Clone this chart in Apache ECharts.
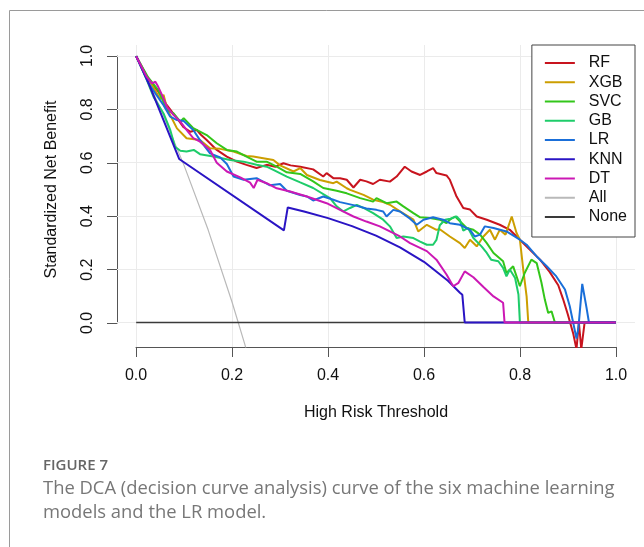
<!DOCTYPE html>
<html>
<head>
<meta charset="utf-8">
<title>DCA curve</title>
<script src="https://cdn.jsdelivr.net/npm/echarts@6/dist/echarts.min.js"></script>
<style>
html, body { margin: 0; padding: 0; background: #fff; }
#chart { width: 644px; height: 547px; }
</style>
</head>
<body>
<div id="chart"></div>
<script>
// tick positions of both axes
var xTicks = [0, 0.2, 0.4, 0.6, 0.8, 1.0];
var yTicks = [0, 0.2, 0.4, 0.6, 0.8, 1.0];
var legendNames = ['RF', 'XGB', 'SVC', 'GB', 'LR', 'KNN', 'DT', 'All', 'None'];

// [threshold, standardized net benefit]
var rf = [[0,1],[0.02,0.93],[0.03,0.905],[0.045,0.87],[0.064,0.816],[0.085,0.767],[0.099,0.733],[0.113,0.716],[0.126,0.723],[0.135,0.705],[0.147,0.685],[0.168,0.648],[0.189,0.623],[0.21,0.604],[0.23,0.592],[0.251,0.58],[0.272,0.592],[0.29,0.585],[0.307,0.598],[0.322,0.59],[0.342,0.585],[0.369,0.575],[0.39,0.548],[0.397,0.561],[0.411,0.542],[0.425,0.542],[0.439,0.536],[0.453,0.507],[0.467,0.536],[0.48,0.53],[0.494,0.52],[0.508,0.536],[0.529,0.529],[0.543,0.548],[0.56,0.585],[0.574,0.567],[0.592,0.554],[0.606,0.567],[0.619,0.58],[0.626,0.561],[0.647,0.552],[0.654,0.536],[0.668,0.473],[0.682,0.43],[0.696,0.424],[0.71,0.398],[0.731,0.386],[0.758,0.367],[0.779,0.348],[0.8,0.311],[0.821,0.273],[0.842,0.236],[0.862,0.19],[0.88,0.14],[0.89,0.088],[0.9,0.03],[0.911,-0.04],[0.918,-0.1],[0.923,0],[0.928,-0.1],[0.935,0],[1,0]];
var xgb = [[0,1],[0.02,0.93],[0.04,0.87],[0.05,0.84],[0.057,0.855],[0.065,0.8],[0.085,0.729],[0.105,0.692],[0.133,0.685],[0.154,0.654],[0.175,0.652],[0.203,0.642],[0.23,0.625],[0.244,0.623],[0.265,0.617],[0.286,0.61],[0.3,0.59],[0.328,0.567],[0.342,0.58],[0.356,0.554],[0.383,0.535],[0.411,0.523],[0.418,0.529],[0.439,0.504],[0.446,0.498],[0.474,0.479],[0.494,0.461],[0.515,0.452],[0.529,0.442],[0.55,0.417],[0.578,0.386],[0.588,0.342],[0.606,0.367],[0.626,0.348],[0.633,0.35],[0.654,0.323],[0.675,0.298],[0.685,0.28],[0.696,0.311],[0.71,0.286],[0.724,0.323],[0.7375,0.348],[0.748,0.311],[0.758,0.348],[0.77,0.33],[0.783,0.398],[0.793,0.336],[0.8,0.311],[0.807,0.199],[0.814,0.098],[0.8175,0],[1,0]];
var svc = [[0,1],[0.025,0.92],[0.046,0.873],[0.064,0.798],[0.078,0.785],[0.092,0.754],[0.099,0.767],[0.119,0.73],[0.147,0.704],[0.168,0.673],[0.189,0.648],[0.21,0.642],[0.23,0.623],[0.251,0.604],[0.272,0.604],[0.293,0.585],[0.314,0.564],[0.342,0.558],[0.369,0.53],[0.39,0.505],[0.418,0.495],[0.439,0.485],[0.467,0.467],[0.494,0.454],[0.501,0.467],[0.522,0.448],[0.543,0.454],[0.557,0.436],[0.578,0.411],[0.592,0.395],[0.6125,0.392],[0.633,0.386],[0.647,0.373],[0.654,0.386],[0.665,0.398],[0.675,0.38],[0.689,0.355],[0.703,0.348],[0.717,0.33],[0.731,0.298],[0.745,0.261],[0.765,0.23],[0.772,0.186],[0.786,0.211],[0.8,0.136],[0.81,0.186],[0.824,0.236],[0.835,0.223],[0.845,0.149],[0.852,0.086],[0.859,0.036],[0.866,0.042],[0.873,0],[1,0]];
var gb = [[0,1],[0.02,0.92],[0.036,0.848],[0.057,0.785],[0.071,0.723],[0.081,0.66],[0.092,0.645],[0.105,0.642],[0.12,0.648],[0.133,0.632],[0.161,0.623],[0.196,0.61],[0.224,0.604],[0.251,0.592],[0.272,0.585],[0.286,0.573],[0.314,0.548],[0.342,0.526],[0.369,0.505],[0.404,0.467],[0.418,0.436],[0.432,0.417],[0.446,0.43],[0.46,0.442],[0.474,0.43],[0.494,0.411],[0.515,0.386],[0.529,0.361],[0.543,0.317],[0.557,0.323],[0.578,0.317],[0.592,0.304],[0.606,0.292],[0.619,0.292],[0.626,0.31],[0.633,0.365],[0.644,0.386],[0.655,0.39],[0.668,0.398],[0.675,0.385],[0.682,0.345],[0.692,0.355],[0.703,0.317],[0.72,0.286],[0.731,0.261],[0.74,0.236],[0.755,0.23],[0.765,0.205],[0.772,0.173],[0.779,0.199],[0.79,0.167],[0.797,0.105],[0.8,0],[1,0]];
var lr = [[0,1],[0.026,0.898],[0.04,0.86],[0.057,0.816],[0.071,0.773],[0.085,0.76],[0.099,0.757],[0.119,0.723],[0.133,0.685],[0.154,0.635],[0.175,0.62],[0.189,0.595],[0.203,0.548],[0.224,0.536],[0.251,0.542],[0.279,0.515],[0.3,0.52],[0.314,0.495],[0.342,0.479],[0.356,0.473],[0.369,0.458],[0.39,0.473],[0.411,0.461],[0.425,0.452],[0.46,0.438],[0.48,0.428],[0.501,0.423],[0.515,0.417],[0.522,0.398],[0.536,0.423],[0.55,0.417],[0.571,0.39],[0.585,0.367],[0.599,0.386],[0.619,0.395],[0.64,0.386],[0.654,0.373],[0.675,0.367],[0.696,0.348],[0.706,0.323],[0.717,0.33],[0.727,0.361],[0.745,0.355],[0.772,0.342],[0.8,0.311],[0.814,0.292],[0.835,0.248],[0.856,0.211],[0.876,0.173],[0.894,0.124],[0.904,0.061],[0.911,0],[0.918,-0.06],[0.922,-0.02],[0.93,0.145],[0.939,0.055],[0.944,0],[1,0]];
var knn = [[0,1],[0.026,0.898],[0.0896,0.614],[0.308,0.346],[0.316,0.432],[0.35,0.417],[0.4,0.392],[0.45,0.362],[0.5,0.326],[0.55,0.282],[0.6,0.228],[0.65,0.157],[0.675,0.112],[0.68,0.104],[0.685,0],[1,0]];
var dt = [[0,1],[0.022,0.922],[0.033,0.898],[0.04,0.904],[0.046,0.885],[0.054,0.854],[0.064,0.81],[0.078,0.779],[0.092,0.754],[0.105,0.723],[0.119,0.692],[0.133,0.679],[0.154,0.648],[0.168,0.6],[0.189,0.567],[0.217,0.545],[0.2375,0.525],[0.245,0.505],[0.253,0.536],[0.272,0.523],[0.293,0.504],[0.321,0.492],[0.356,0.473],[0.397,0.448],[0.425,0.423],[0.453,0.398],[0.48,0.379],[0.508,0.361],[0.529,0.342],[0.55,0.323],[0.571,0.298],[0.606,0.268],[0.626,0.236],[0.647,0.18],[0.661,0.136],[0.672,0.149],[0.685,0.192],[0.703,0.17],[0.724,0.133],[0.745,0.098],[0.765,0.074],[0.768,0],[1,0]];
var treatAll = [[0,1],[0.05,0.806],[0.1,0.589],[0.15,0.348],[0.2,0.076],[0.227,-0.085],[0.24,-0.18]];
var treatNone = [[0,0],[1,0]];

var font = '"Liberation Sans", Arial, sans-serif';
var captionFont = '"Open Sans", sans-serif';
var axisColor = '#555';

var chart = echarts.init(document.getElementById('chart'));

function curve(name, data, color, width) {
    return {
        name: name,
        type: 'line',
        data: data,
        xAxisIndex: 0,
        yAxisIndex: 0,
        symbol: 'none',
        clip: true,
        z: 3,
        lineStyle: { color: color, width: width },
        itemStyle: { color: color }
    };
}

// background grid lines over the whole plot region
var gridSeries = {
    name: 'grid',
    type: 'line',
    data: [],
    xAxisIndex: 0,
    yAxisIndex: 0,
    z: 1,
    markLine: {
        z: 1,
        silent: true,
        symbol: 'none',
        label: { show: false },
        lineStyle: { color: '#ebebeb', width: 1, type: 'solid' },
        data: xTicks.map(function (v) { return { xAxis: v }; })
            .concat(yTicks.map(function (v) { return { yAxis: v }; }))
    }
};

var option = {
    animation: false,
    backgroundColor: '#fff',
    textStyle: { fontFamily: font },
    grid: [
        // plot region
        { left: 117, right: 9, top: 45, bottom: 200 },
        // region spanned by the tick range (0..1), used for the R style axes
        { left: 136, right: 28, top: 56, bottom: 224 }
    ],
    xAxis: [
        { gridIndex: 0, type: 'value', min: -0.04, max: 1.04, show: false },
        {
            gridIndex: 1, type: 'value', min: 0, max: 1, interval: 0.2, offset: 24,
            axisLine: { show: true, onZero: false, lineStyle: { color: axisColor, width: 1 } },
            axisTick: { show: true, length: 10, lineStyle: { color: axisColor } },
            axisLabel: { fontSize: 16, color: '#111', margin: 21, fontFamily: font,
                formatter: function (v) { return v.toFixed(1); } },
            splitLine: { show: false },
            name: 'High Risk Threshold', nameLocation: 'middle', nameGap: 58,
            nameTextStyle: { fontSize: 16, color: '#111', fontFamily: font }
        }
    ],
    yAxis: [
        { gridIndex: 0, type: 'value', min: -0.092, max: 1.042, show: false },
        {
            gridIndex: 1, type: 'value', min: 0, max: 1, interval: 0.2, offset: 19,
            axisLine: { show: true, onZero: false, lineStyle: { color: axisColor, width: 1 } },
            axisTick: { show: true, length: 10, lineStyle: { color: axisColor } },
            axisLabel: { fontSize: 16, color: '#111', margin: 21, rotate: 90, fontFamily: font,
                formatter: function (v) { return v.toFixed(1); } },
            splitLine: { show: false },
            name: 'Standardized Net Benefit', nameLocation: 'middle', nameGap: 57,
            nameTextStyle: { fontSize: 16, color: '#111', fontFamily: font }
        }
    ],
    legend: {
        data: legendNames,
        orient: 'vertical',
        right: 9,
        top: 45,
        z: 20,
        icon: 'rect',
        itemWidth: 30,
        itemHeight: 2,
        itemGap: 3.25,
        padding: [10, 8, 12, 13],
        borderColor: '#444',
        borderWidth: 1,
        backgroundColor: '#fff',
        selectedMode: false,
        textStyle: { fontSize: 16, color: '#111', fontFamily: font },
        formatter: function (n) { return '  ' + n; }
    },
    series: [
        gridSeries,
        curve('All', treatAll, '#b9b9b9', 1.2),
        curve('None', treatNone, '#3a3a3a', 1.3),
        curve('RF', rf, '#c8141e', 2),
        curve('XGB', xgb, '#cc9e00', 2),
        curve('SVC', svc, '#33c61a', 2),
        curve('GB', gb, '#1ecc6a', 2),
        curve('LR', lr, '#1a6fd9', 2),
        curve('KNN', knn, '#2a14c4', 2),
        curve('DT', dt, '#cc18b4', 2)
    ],
    graphic: [
        { type: 'line', shape: { x1: 9.5, y1: 10.5, x2: 9.5, y2: 547 }, style: { stroke: '#9a9a9a', lineWidth: 1 } },
        { type: 'line', shape: { x1: 9.5, y1: 10.5, x2: 644, y2: 10.5 }, style: { stroke: '#9a9a9a', lineWidth: 1 } },
        { type: 'text', x: 43, y: 466, style: { text: 'FIGURE 7', fontSize: 15, fontWeight: 600, fill: '#666', fontFamily: captionFont, verticalAlign: 'middle' } },
        { type: 'text', x: 43, y: 489, style: { text: 'The DCA (decision curve analysis) curve of the six machine learning', fontSize: 18.4, fill: '#777', fontFamily: captionFont, verticalAlign: 'middle' } },
        { type: 'text', x: 43, y: 513, style: { text: 'models and the LR model.', fontSize: 18.4, fill: '#777', fontFamily: captionFont, verticalAlign: 'middle' } }
    ]
};

chart.setOption(option);
</script>
</body>
</html>
